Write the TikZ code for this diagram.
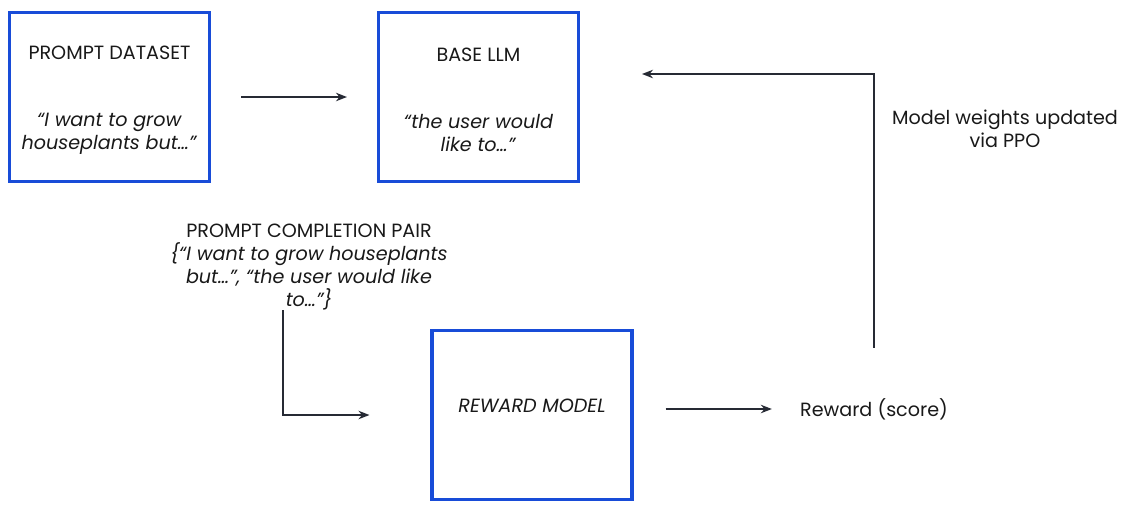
\documentclass[tikz,border=0pt]{standalone}
\usepackage{fontspec}
\setmainfont{Poppins}
\usepackage{tikz}
\usetikzlibrary{arrows.meta,calc}
\definecolor{stageblue}{RGB}{24,76,216}
\definecolor{arrowgray}{RGB}{38,42,52}
\definecolor{inkblack}{RGB}{25,25,25}

\begin{document}
\begin{tikzpicture}[x=0.02cm,y=-0.02cm,
  font=\fontsize{10.9}{13}\selectfont,
  stage/.style={draw=stageblue,line width=1.8pt,minimum width=4cm,minimum height=3.38cm,
    align=center,inner sep=0pt,text=inkblack},
  caption/.style={align=center,inner sep=0pt,text=inkblack},
  flow/.style={draw=arrowgray,line width=0.8pt,-{Stealth[length=0.22cm,width=0.17cm]}}]
\fill[white] (0,0) rectangle (1125,511);
\node[stage] (dataset) at (109.5,97) {\rule{0pt}{10.9pt}PROMPT DATASET\\[25.3pt]\textit{“I want to grow}\\\textit{houseplants but…”}};
\node[stage] (base) at (478.5,97) {\rule{0pt}{10.9pt}BASE LLM\\[25.3pt]\textit{“the user would}\\\textit{like to…”}};
\node[stage] (reward) at (532,415) {\textit{REWARD MODEL}\rule[-11pt]{0pt}{11pt}};
\node[caption] (score) at (874,409) {Reward (score)};
\node[caption] (ppo) at (1005,129) {Model weights updated\\via PPO};
\node[caption] (pair) at (309,267) {PROMPT COMPLETION PAIR\\\textit{\{“I want to grow houseplants}\\\textit{but…”, “the user would like}\\\textit{to…”\}}};
\coordinate (llm-in) at (642,74);
\draw[flow,shorten <=0.6cm,shorten >=0.6cm] (dataset) -- (base);
\draw[flow,shorten <=0.64cm,shorten >=0.56cm] (reward.east |- score.west) -- (score.west);
\draw[flow,shorten <=1cm] (score.north) |- (llm-in);
\draw[flow,shorten >=1.22cm] ([xshift=-0.52cm]pair.south) |- (reward.west);
\end{tikzpicture}
\end{document}
